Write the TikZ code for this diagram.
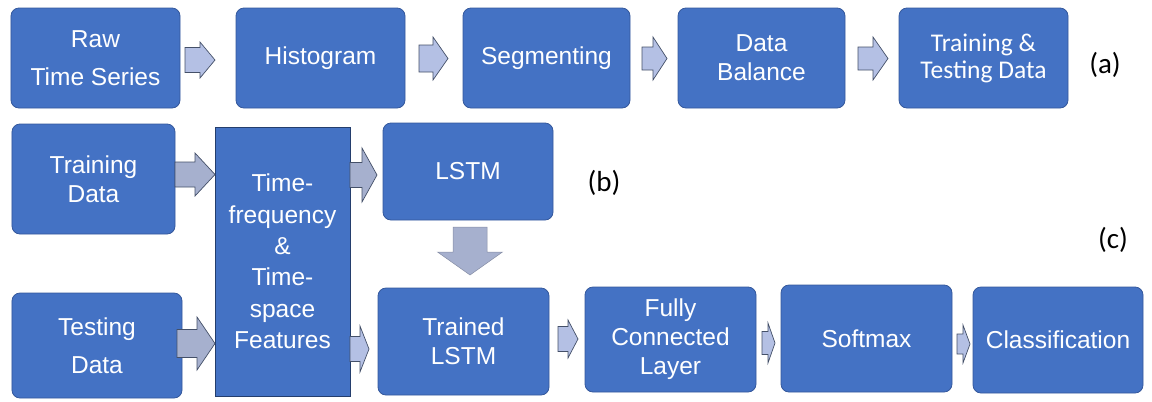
\documentclass[tikz,border=0pt]{standalone}
\usepackage{fontspec}
\setmainfont{Liberation Sans}
\newfontfamily\carl{Carlito}
\definecolor{boxblue}{RGB}{68,114,196}
\definecolor{boxedge}{RGB}{52,88,156}
\definecolor{arrfill}{RGB}{180,192,228}
\definecolor{bigfill}{RGB}{166,176,206}
\definecolor{arredge}{RGB}{68,80,104}
\newcommand\blkR[7]{\filldraw[#1] (#2,#5-#6) -- (#4,#5-#6) -- (#4,#5-#7) -- (#3,#5) -- (#4,#5+#7) -- (#4,#5+#6) -- (#2,#5+#6) -- cycle;}
\newcommand\blkD[7]{\filldraw[#1] (#5-#6,#2) -- (#5-#6,#4) -- (#5-#7,#4) -- (#5,#3) -- (#5+#7,#4) -- (#5+#6,#4) -- (#5+#6,#2) -- cycle;}
\tikzset{
  blk/.style={rounded corners=8bp, fill=boxblue, draw=boxedge, line width=0.8bp, text=white, align=center, inner sep=0pt, font=\fontsize{24.5bp}{29bp}\selectfont},
  tallskip/.style={font=\fontsize{24.5bp}{38bp}\selectfont},
  smallarr/.style={fill=arrfill, draw=arredge, line width=0.7bp, line join=miter},
  bigarr/.style={fill=bigfill, draw=arredge, line width=0.7bp, line join=miter},
  downarr/.style={fill=bigfill, draw=bigfill!80!black, line width=0.5bp},
  lab/.style={text=black, font=\carl\fontsize{29bp}{32bp}\selectfont, inner sep=0pt}
}
\begin{document}
\begin{tikzpicture}[x=1bp,y=-1bp]
\useasboundingbox (0,0) rectangle (1152,401);
% row (a)
\node[blk, tallskip, minimum width=169bp, minimum height=100bp] (raw) at (95.5,58) {Raw\\Time Series};
\node[blk, minimum width=169bp, minimum height=100bp] (hist) at (320.5,58) {Histogram};
\node[blk, minimum width=167bp, minimum height=100bp] (seg) at (546.5,58) {Segmenting};
\node[blk, minimum width=167bp, minimum height=100bp] (bal) at (761.5,58) {Data\\Balance};
\node[blk, minimum width=169bp, minimum height=100bp, font=\carl\fontsize{25.5bp}{27bp}\selectfont] (tt) at (983.5,58) {Training \&\\Testing Data};
\node[lab] (la) at (1105,65) {(a)};
\blkR{smallarr}{185}{215}{200}{60}{12.5}{18}
\blkR{smallarr}{419}{448}{433}{58.5}{13.5}{21.5}
\blkR{smallarr}{642}{667}{653}{58.5}{11.5}{21.5}
\blkR{smallarr}{858}{888}{873}{58.5}{11.5}{21.5}
% row (b)
\node[blk, minimum width=163bp, minimum height=110bp] (trd) at (93.5,179) {Training\\Data};
\node[blk, rounded corners=0pt, draw=boxedge!70!black, minimum width=135bp, minimum height=269bp, font=\fontsize{24.5bp}{31.4bp}\selectfont] (tf) at (282.5,261.5) {Time-\\frequency\\\&\\Time-\\space\\Features};
\node[blk, minimum width=170bp, minimum height=97bp] (lstm) at (468,171.5) {LSTM};
\node[lab] (lb) at (604,183) {(b)};
\node[lab] (lc) at (1113,240) {(c)};
\blkR{bigarr}{175}{215}{195}{174.5}{12.5}{21.5}
\blkR{bigarr}{350}{377}{362}{175}{12.5}{27}
\blkD{downarr}{227}{275}{252}{470}{17}{32.5}
% row (c)
\node[blk, tallskip, minimum width=170bp, minimum height=105bp] (ted) at (97,345.5) {Testing\\Data};
\node[blk, minimum width=171bp, minimum height=107bp] (tl) at (463.5,341.5) {Trained\\LSTM};
\node[blk, minimum width=171bp, minimum height=105bp] (fc) at (670.5,339.5) {Fully\\Connected\\Layer};
\node[blk, minimum width=171bp, minimum height=107bp] (sm) at (866.5,338.5) {Softmax};
\node[blk, minimum width=170bp, minimum height=106bp] (cl) at (1058,340) {Classification};
\blkR{bigarr}{177}{215}{197}{343.5}{14}{26.5}
\blkR{smallarr}{350}{369}{360}{349}{12.5}{23}
\blkR{smallarr}{558}{578}{568}{339}{12.5}{19}
\blkR{smallarr}{762}{775}{768}{343}{11.5}{20}
\blkR{smallarr}{957}{970}{963}{344}{10}{19}
\end{tikzpicture}
\end{document}
